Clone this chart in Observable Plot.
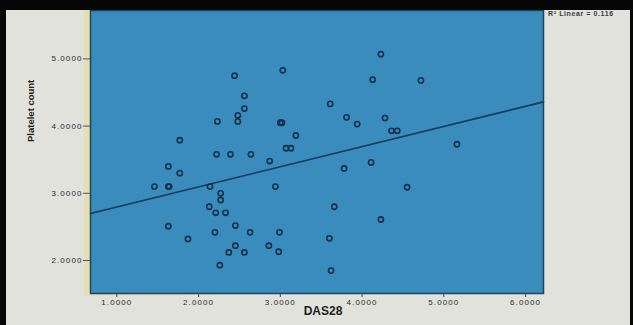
<!DOCTYPE html>
<html><head><meta charset="utf-8">
<script src="https://cdn.jsdelivr.net/npm/d3@7"></script>
<script src="https://cdn.jsdelivr.net/npm/@observablehq/plot@0.6"></script>
<style>
html,body{margin:0;padding:0;background:#e2e2dd;}
#wrap{position:relative;width:633px;height:325px;overflow:hidden;}
#frame{position:absolute;left:0;top:0;width:633px;height:325px;box-sizing:border-box;border-top:10px solid #060606;border-left:6px solid #060606;border-right:3px solid #060606;pointer-events:none;}
#r2{position:absolute;left:548px;top:10px;font:bold 7px "Liberation Sans",Arial,sans-serif;letter-spacing:0.6px;color:#3a3a3a;white-space:nowrap;}
svg g[aria-label="x-axis tick label"] text, svg g[aria-label="y-axis tick label"] text{letter-spacing:1.1px;}
</style></head><body><div id="wrap"><div id="frame"></div><div id="r2"></div></div>
<script>
// DAS28 (x) and Platelet count (y)
const das28 = [4.23,2.44,3.03,4.13,4.72,2.56,2.56,2.48,2.48,2.23,3.00,3.02,3.61,3.81,3.94,4.28,4.36,4.43,3.19,1.77,3.07,3.13,5.16,2.22,2.39,2.64,2.87,4.11,3.78,1.63,1.77,1.46,1.63,1.64,2.14,2.94,4.55,2.27,2.27,2.13,2.21,2.33,3.66,4.23,1.63,2.45,2.20,2.63,2.99,1.87,3.60,2.45,2.86,2.37,2.56,2.98,2.26,3.62];
const platelet = [5.07,4.75,4.83,4.69,4.68,4.45,4.26,4.16,4.07,4.07,4.05,4.05,4.33,4.13,4.03,4.12,3.93,3.93,3.86,3.79,3.67,3.67,3.73,3.58,3.58,3.58,3.48,3.46,3.37,3.40,3.30,3.10,3.10,3.10,3.10,3.10,3.09,3.00,2.90,2.80,2.71,2.71,2.80,2.61,2.51,2.52,2.42,2.42,2.42,2.32,2.33,2.22,2.22,2.12,2.12,2.13,1.93,1.85];
const xTicks = [1,2,3,4,5,6];
const yTicks = [2,3,4,5];
const fitIntercept = 2.495;
const fitSlope = 0.30;
const r2Label = "R² Linear = 0.116";
const xTitle = "DAS28";
const yTitle = "Platelet count";

const xDomain = [0.678, 6.219];
const yDomain = [1.509, 5.72];
const points = das28.map((x, i) => ({x, y: platelet[i]}));
const fit = xDomain.map(x => ({x, y: fitIntercept + fitSlope * x}));
const fmt = d3.format(".4f");

const bg = [
  "linear-gradient(#e8dfb0,#e8dfb0) 84px 10px / 6px 286px no-repeat",
  "linear-gradient(to right,#e8dfb0,rgba(232,223,176,0) 180px) 84px 293px / 300px 3px no-repeat",
  "#e2e2dd"
].join(",");

const chart = Plot.plot({
  width: 633, height: 325,
  marginLeft: 90, marginRight: 90, marginTop: 10, marginBottom: 32,
  style: {background: bg, fontFamily: "'Liberation Sans', Arial, sans-serif", overflow: "visible"},
  x: {domain: xDomain},
  y: {domain: yDomain},
  marks: [
    Plot.frame({fill: "#3a8cbd"}),
    Plot.line(fit, {x: "x", y: "y", stroke: "#12385a", strokeWidth: 1.6}),
    Plot.dot(points, {x: "x", y: "y", r: 2.6, stroke: "#16304a", strokeWidth: 1.6, fill: "none"}),
    Plot.frame({stroke: "#1b4662", strokeWidth: 1.5}),
    Plot.axisX({ticks: xTicks, tickFormat: fmt, tickSize: 4, tickPadding: 2, fontSize: 8, fill: "#2b2b2b", stroke: "#444", label: null}),
    Plot.axisY({ticks: yTicks, tickFormat: fmt, tickSize: 7, tickPadding: 1, fontSize: 8, fill: "#2b2b2b", stroke: "#555", label: null}),
    Plot.text([xTitle], {frameAnchor: "bottom", dx: 6, dy: 21, fontSize: 12, fontWeight: "bold", fill: "#1e1e1e"}),
    Plot.text([yTitle], {frameAnchor: "left", rotate: -90, dx: -60, dy: -10, fontSize: 9.5, fontWeight: "bold", fill: "#1e1e1e"})
  ]
});
const wrap = document.getElementById("wrap");
wrap.insertBefore(chart, document.getElementById("frame"));
document.getElementById("r2").textContent = r2Label;
</script>
</body></html>
